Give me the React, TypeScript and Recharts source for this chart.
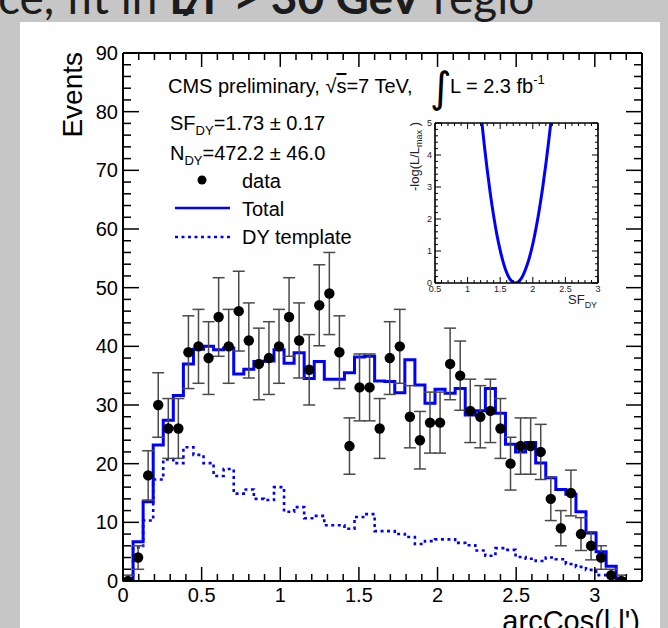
import React from 'react';
import { ComposedChart, LineChart, Line, Scatter, ErrorBar, XAxis, YAxis } from 'recharts';

// arcCos(l,l') distribution: 50 bins of width 0.064 covering [0, 3.2]
const BIN_LOW = 0;
const BIN_WIDTH = 0.064;

const dataCounts = [
  0, 4, 18, 30, 26, 26, 39, 40, 38, 45,
  40, 46, 41, 37, 38, 40, 45, 41, 36, 47,
  49, 39, 23, 33, 33, 26, 38, 40, 28, 24,
  27, 27, 37, 35, 29, 28, 29, 26, 20, 23,
  23, 22, 14, 9, 15, 8, 6, 4, 1, 0,
];
const dataErrors = [
  1.0, 2.0, 4.2, 5.5, 5.1, 5.1, 6.2, 6.3, 6.2, 6.7,
  6.3, 6.8, 6.4, 6.1, 6.2, 6.3, 6.7, 6.4, 6.0, 6.9,
  7.0, 6.2, 4.8, 5.7, 5.7, 5.1, 6.2, 6.3, 5.3, 4.9,
  5.2, 5.2, 6.1, 5.9, 5.4, 5.3, 5.4, 5.1, 4.5, 4.8,
  4.8, 4.7, 3.7, 3.0, 3.9, 2.8, 2.4, 2.0, 1.0, 1.0,
];
const totalFit = [
  0.2, 6.7, 13.5, 23.2, 27.4, 31.6, 37.0, 39.5, 40.0, 39.4,
  39.7, 35.3, 36.1, 37.4, 37.5, 39.4, 37.1, 38.9, 34.5, 37.4,
  34.4, 34.4, 35.5, 38.2, 38.3, 34.1, 34.0, 32.1, 37.7, 33.4,
  30.3, 32.7, 32.0, 32.8, 28.3, 29.0, 32.8, 28.6, 23.3, 22.0,
  23.6, 20.1, 17.6, 15.6, 14.8, 11.8, 8.2, 5.0, 2.5, 0.4,
];
const dyTemplate = [
  0.3, 5.7, 10.3, 17.3, 20.7, 20.1, 22.8, 21.5, 20.1, 17.9,
  19.1, 14.9, 15.6, 14.0, 13.8, 16.0, 11.8, 12.6, 10.7, 11.1,
  9.5, 9.5, 8.9, 10.9, 11.4, 8.5, 8.5, 8.0, 7.5, 6.3,
  6.8, 7.1, 7.1, 6.5, 6.1, 5.2, 4.3, 5.6, 5.3, 4.1,
  3.8, 3.4, 4.0, 3.7, 2.9, 2.4, 1.9, 1.0, 0.5, 0.1,
];

// Likelihood scan of the DY scale factor
const sfScan = [1.22, 1.26, 1.3, 1.35, 1.4, 1.45, 1.5, 1.55, 1.6, 1.65, 1.68, 1.73, 1.76, 1.8, 1.85, 1.9, 1.95, 2.0, 2.05, 2.1, 2.15, 2.2, 2.24, 2.276];
const nllScan = [5.0, 4.24, 3.55, 2.77, 2.09, 1.5, 1.02, 0.62, 0.32, 0.12, 0.05, 0, 0.015, 0.08, 0.24, 0.49, 0.81, 1.22, 1.72, 2.3, 2.96, 3.71, 4.37, 5.0];

const X_DOMAIN: [number, number] = [0, 3.3];
const Y_DOMAIN: [number, number] = [0, 90];
const INSET_X_DOMAIN: [number, number] = [0.5, 3];
const INSET_Y_DOMAIN: [number, number] = [0, 5];

const xMajor = [0, 0.5, 1, 1.5, 2, 2.5, 3];
const yMajor = [0, 10, 20, 30, 40, 50, 60, 70, 80, 90];
const insetXMajor = [0.5, 1, 1.5, 2, 2.5, 3];
const insetYMajor = [0, 1, 2, 3, 4, 5];

const range = (start: number, stop: number, step: number) => {
  const out: number[] = [];
  const n = Math.round((stop - start) / step);
  for (let i = 0; i <= n; i++) out.push(+(start + i * step).toFixed(4));
  return out;
};

const xTicks = range(0, 3.3, 0.1);
const yTicks = range(0, 90, 2);
const insetXTicks = range(0.5, 3, 0.1);
const insetYTicks = range(0, 5, 0.2);

const stepRows = (vals: number[]) =>
  vals
    .map((v, i) => ({ x: BIN_LOW + i * BIN_WIDTH, y: v }))
    .concat([{ x: BIN_LOW + vals.length * BIN_WIDTH, y: vals[vals.length - 1] }]);

const totalRows = stepRows(totalFit);
const dyRows = stepRows(dyTemplate);
const pointRows = dataCounts.map((v, i) => ({
  x: BIN_LOW + (i + 0.5) * BIN_WIDTH,
  y: v,
  err: [Math.min(dataErrors[i], v), dataErrors[i]],
}));
const scanRows = sfScan.map((s, i) => ({ x: s, y: nllScan[i] }));

const FONT = "'Liberation Sans', Arial, Helvetica, sans-serif";
const BLUE = '#0000ff';

type Side = 'left' | 'right' | 'top' | 'bottom';
const near = (v: number, list: number[]) => list.some((m) => Math.abs(m - v) < 1e-6);

function makeTick(
  side: Side,
  majors: number[],
  opts: { majorLen: number; minorLen: number; width: number; fontSize?: number; gap?: number; color?: string }
) {
  return (props: any) => {
    const { x, y, payload } = props;
    const v = payload.value as number;
    const major = near(v, majors);
    const len = major ? opts.majorLen : opts.minorLen;
    let x2 = x;
    let y2 = y;
    if (side === 'left') x2 = x + len;
    else if (side === 'right') x2 = x - len;
    else if (side === 'bottom') y2 = y - len;
    else y2 = y + len;
    let label: React.ReactNode = null;
    if (major && opts.fontSize) {
      const common = { fontSize: opts.fontSize, fontFamily: FONT, fill: opts.color || '#000' };
      if (side === 'left') {
        label = (
          <text x={x - (opts.gap || 5)} y={y} textAnchor="end" dominantBaseline="central" {...common}>
            {String(v)}
          </text>
        );
      } else if (side === 'bottom') {
        label = (
          <text x={x} y={y + (opts.gap || 20)} textAnchor="middle" {...common}>
            {String(v)}
          </text>
        );
      }
    }
    return (
      <g>
        <line x1={x} y1={y} x2={x2} y2={y2} stroke="#000" strokeWidth={opts.width} />
        {label}
      </g>
    );
  };
}

const mainBottom = makeTick('bottom', xMajor, { majorLen: 14, minorLen: 7, width: 1.5, fontSize: 20, gap: 20.5 });
const mainTop = makeTick('top', xMajor, { majorLen: 14, minorLen: 7, width: 1.5 });
const mainLeft = makeTick('left', yMajor, { majorLen: 16, minorLen: 8, width: 1.5, fontSize: 20, gap: 5 });
const mainRight = makeTick('right', yMajor, { majorLen: 16, minorLen: 8, width: 1.5 });

const insetBottom = makeTick('bottom', insetXMajor, { majorLen: 6, minorLen: 3, width: 1, fontSize: 9, gap: 9, color: '#222' });
const insetTop = makeTick('top', insetXMajor, { majorLen: 6, minorLen: 3, width: 1 });
const insetLeft = makeTick('left', insetYMajor, { majorLen: 6, minorLen: 3, width: 1, fontSize: 9, gap: 3, color: '#222' });
const insetRight = makeTick('right', insetYMajor, { majorLen: 6, minorLen: 3, width: 1 });

const frame = { stroke: '#000', strokeWidth: 2 };
const insetFrame = { stroke: '#000', strokeWidth: 1.6 };

const DataMarker = (props: any) => {
  const { cx, cy } = props;
  if (cx == null || cy == null) return null;
  return <circle cx={cx} cy={cy} r={5.2} fill="#000" />;
};

export default function App() {
  return (
    <div style={{ position: 'absolute', left: 0, top: 0, width: 668, height: 628, background: '#c5c6c5', overflow: 'hidden' }}>
      <svg width={668} height={22} style={{ position: 'absolute', left: 0, top: 0 }}>
        <text x={-2} y={14} fontSize={46} fontFamily="Lato, 'Open Sans', sans-serif" fill="#1c1c1c">
          ce, fit in <tspan fontWeight="bold">E̸T &gt; 30 GeV</tspan> regio
        </text>
      </svg>
      <div style={{ position: 'absolute', left: 20, top: 22, width: 640, height: 606, background: '#fff' }} />

      <div style={{ position: 'absolute', left: 0, top: 0 }}>
        <ComposedChart width={668} height={628} margin={{ top: 43, right: 16, bottom: 17, left: 83 }}>
          <XAxis xAxisId="b" dataKey="x" type="number" domain={X_DOMAIN} ticks={xTicks} interval={0}
            tickSize={0} tickMargin={0} tickLine={false} tick={mainBottom} axisLine={frame} height={30} allowDataOverflow />
          <XAxis xAxisId="t" dataKey="x" orientation="top" type="number" domain={X_DOMAIN} ticks={xTicks} interval={0}
            tickSize={0} tickMargin={0} tickLine={false} tick={mainTop} axisLine={frame} height={10} allowDataOverflow />
          <YAxis yAxisId="l" type="number" domain={Y_DOMAIN} ticks={yTicks} interval={0}
            tickSize={0} tickMargin={0} tickLine={false} tick={mainLeft} axisLine={frame} width={40} allowDataOverflow />
          <YAxis yAxisId="r" orientation="right" type="number" domain={Y_DOMAIN} ticks={yTicks} interval={0}
            tickSize={0} tickMargin={0} tickLine={false} tick={mainRight} axisLine={frame} width={10} allowDataOverflow />

          <Line xAxisId="b" yAxisId="l" data={dyRows} dataKey="y" type="stepAfter" stroke={BLUE} strokeWidth={2.6}
            strokeDasharray="3 3.5" dot={false} activeDot={false} isAnimationActive={false} />
          <Line xAxisId="b" yAxisId="l" data={totalRows} dataKey="y" type="stepAfter" stroke={BLUE} strokeWidth={3}
            dot={false} activeDot={false} isAnimationActive={false} />
          <Scatter xAxisId="b" yAxisId="l" data={pointRows} dataKey="y" shape={DataMarker} isAnimationActive={false}>
            <ErrorBar dataKey="err" direction="y" width={6} stroke="#4a4a4a" strokeWidth={1.5} isAnimationActive={false} />
          </Scatter>
        </ComposedChart>
      </div>

      <div style={{ position: 'absolute', left: 380, top: 100 }}>
        <LineChart width={240} height={215} margin={{ top: 21, right: 20, bottom: 12, left: 35 }}>
          <XAxis xAxisId="b" dataKey="x" type="number" domain={INSET_X_DOMAIN} ticks={insetXTicks} interval={0}
            tickSize={0} tickMargin={0} tickLine={false} tick={insetBottom} axisLine={insetFrame} height={20} allowDataOverflow />
          <XAxis xAxisId="t" dataKey="x" orientation="top" type="number" domain={INSET_X_DOMAIN} ticks={insetXTicks} interval={0}
            tickSize={0} tickMargin={0} tickLine={false} tick={insetTop} axisLine={insetFrame} height={2} allowDataOverflow />
          <YAxis yAxisId="l" type="number" domain={INSET_Y_DOMAIN} ticks={insetYTicks} interval={0}
            tickSize={0} tickMargin={0} tickLine={false} tick={insetLeft} axisLine={insetFrame} width={20} allowDataOverflow />
          <YAxis yAxisId="r" orientation="right" type="number" domain={INSET_Y_DOMAIN} ticks={insetYTicks} interval={0}
            tickSize={0} tickMargin={0} tickLine={false} tick={insetRight} axisLine={insetFrame} width={2} allowDataOverflow />
          <Line xAxisId="b" yAxisId="l" data={scanRows} dataKey="y" type="monotone" stroke={BLUE} strokeWidth={3}
            dot={false} activeDot={false} isAnimationActive={false} />
        </LineChart>
      </div>

      <svg width={668} height={628} style={{ position: 'absolute', left: 0, top: 0, pointerEvents: 'none' }} fontFamily={FONT}>
        {/* header */}
        <text x={168} y={93} fontSize={20} fill="#000">
          CMS preliminary, √<tspan textDecoration="overline">s</tspan>=7 TeV,
        </text>
        <text x={430} y={102} fontSize={42} fill="#000" fontFamily="'DejaVu Sans', sans-serif">∫</text>
        <text x={450} y={93} fontSize={20} fill="#000">
          L = 2.3 fb<tspan fontSize={13} dy={-9}>-1</tspan>
        </text>
        <text x={170} y={130} fontSize={20} fill="#000">
          SF<tspan fontSize={13} dy={5}>DY</tspan><tspan dy={-5}>=1.73 ± 0.17</tspan>
        </text>
        <text x={170} y={160} fontSize={20} fill="#000">
          N<tspan fontSize={13} dy={5}>DY</tspan><tspan dy={-5}>=472.2 ± 46.0</tspan>
        </text>

        {/* legend */}
        <circle cx={202} cy={180} r={4.5} fill="#000" />
        <text x={242} y={188} fontSize={20} fill="#000">data</text>
        <line x1={175} y1={208} x2={230} y2={208} stroke={BLUE} strokeWidth={2.6} />
        <text x={242} y={216} fontSize={20} fill="#000">Total</text>
        <line x1={175} y1={237} x2={230} y2={237} stroke={BLUE} strokeWidth={2.4} strokeDasharray="3 3.5" />
        <text x={242} y={244} fontSize={20} fill="#000">DY template</text>

        {/* axis titles */}
        <text transform="translate(82,52) rotate(-90)" textAnchor="end" fontSize={28} fill="#000">Events</text>
        <text x={640} y={631} textAnchor="end" fontSize={29} fill="#000">arcCos(l,l')</text>

        {/* inset titles */}
        <text transform="translate(419,122) rotate(-90)" textAnchor="end" fontSize={13} fill="#222">
          -log(L/L<tspan fontSize={9} dy={3}>max</tspan><tspan dy={-3}> )</tspan>
        </text>
        <text x={568} y={304} fontSize={13} fill="#222">
          SF<tspan fontSize={9} dy={4}>DY</tspan>
        </text>
      </svg>
    </div>
  );
}
